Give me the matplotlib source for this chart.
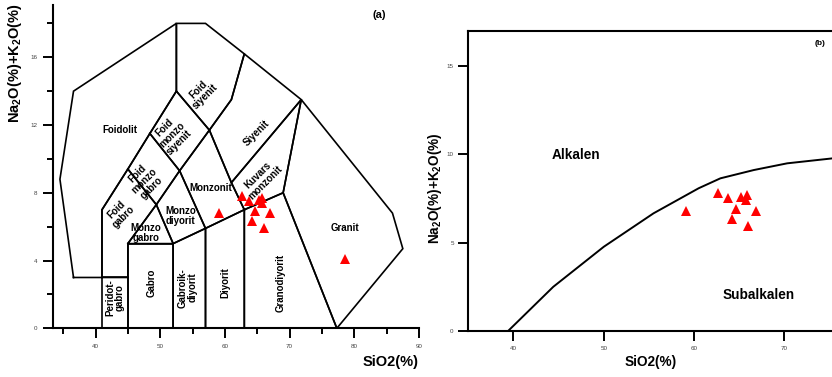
import matplotlib.pyplot as plt

plt.rcParams['font.family'] = ['Liberation Sans', 'DejaVu Sans']
plt.rcParams['mathtext.fontset'] = 'custom'
plt.rcParams['mathtext.bf'] = 'Liberation Sans:bold'
plt.rcParams['mathtext.rm'] = 'Liberation Sans'

# numune noktalari (SiO2, Na2O+K2O)
sio2 = [59.1, 62.6, 63.7, 65.2, 65.8, 65.7, 64.6, 66.9, 64.2, 66.0, 78.6]
alk = [6.8, 7.8, 7.5, 7.6, 7.7, 7.4, 6.9, 6.8, 6.35, 5.95, 4.1]

# TAS plutonik alanlar (kose noktalari)
peridotgabro = [(41, 0), (41, 3), (45, 3), (45, 0)]
gabro = [(45, 0), (45, 5), (52, 5), (52, 0)]
gabroik_diyorit = [(52, 0), (52, 5), (57, 5.9), (57, 0)]
diyorit = [(57, 0), (57, 5.9), (63, 7), (63, 0)]
granodiyorit = [(63, 0), (63, 7), (69, 8), (77.3, 0)]
granit = [(77.3, 0), (69, 8), (71.8, 13.5), (85.9, 6.8), (87.5, 4.7), (77.3, 0)]
kuvars_monzonit = [(63, 7), (69, 8), (71.8, 13.5), (61, 8.6)]
monzonit = [(53, 9.3), (57, 5.9), (63, 7), (61, 8.6), (57.6, 11.7)]
monzo_diyorit = [(49.4, 7.3), (52, 5), (57, 5.9), (53, 9.3)]
monzo_gabro = [(45, 5), (49.4, 7.3), (52, 5)]
foid_gabro = [(41, 3), (41, 7), (45, 9.4), (49.4, 7.3), (45, 5), (45, 3)]
foid_monzo_gabro = [(45, 9.4), (48.4, 11.5), (53, 9.3), (49.4, 7.3)]
foid_monzo_siyenit = [(48.4, 11.5), (52.5, 14), (57.6, 11.7), (53, 9.3)]
foid_siyenit = [(52.5, 14), (52.5, 18), (57, 18), (63, 16.2), (61, 13.5), (57.6, 11.7)]
siyenit = [(57.6, 11.7), (61, 13.5), (63, 16.2), (71.8, 13.5), (61, 8.6)]
foidolit = [(36.6, 3), (34.5, 8.8), (36.6, 14), (52.5, 18), (52.5, 14),
            (48.4, 11.5), (45, 9.4), (41, 7), (41, 3)]
fields = [peridotgabro, gabro, gabroik_diyorit, diyorit, granodiyorit, granit,
          kuvars_monzonit, monzonit, monzo_diyorit, monzo_gabro, foid_gabro,
          foid_monzo_gabro, foid_monzo_siyenit, foid_siyenit, siyenit, foidolit]

# alan etiketleri: metin, x, y, aci
field_labels = [
    ('Foidolit', 43.7, 11.7, 0),
    ('Foid\nsiyenit', 56.4, 13.9, 45),
    ('Foid\nmonzo\nsiyenit', 51.8, 11.4, 45),
    ('Foid\nmonzo\ngabro', 47.6, 8.7, 45),
    ('Foid\ngabro', 43.8, 6.8, 45),
    ('Monzo\ngabro', 47.8, 5.6, 0),
    ('Monzo\ndiyorit', 53.1, 6.6, 0),
    ('Monzonit', 57.8, 8.3, 0),
    ('Kuvars\nmonzonit', 65.7, 8.8, 45),
    ('Siyenit', 64.9, 11.5, 45),
    ('Granit', 78.6, 5.9, 0),
    ('Peridot-\ngabro', 43.0, 1.8, 90),
    ('Gabro', 48.7, 2.7, 90),
    ('Gabroik-\ndiyorit', 54.3, 2.4, 90),
    ('Diyorit', 60.0, 2.7, 90),
    ('Granodiyorit', 68.6, 2.7, 90),
]

# alkalen / subalkalen siniri
bx = [39.4, 44.4, 50.0, 55.5, 60.5, 62.9, 66.6, 70.3, 75.3]
by = [0.0, 2.5, 4.77, 6.66, 8.08, 8.64, 9.11, 9.49, 9.77]

ylab = r'$\mathbf{Na_2O(\%)}$' + r'$\mathbf{{+}K_2O(\%)}$'

fig = plt.figure(figsize=(8.32, 3.77), dpi=100)

# ---- (a) ----
ax1 = fig.add_axes([0.0641, 0.1292, 0.4395, 0.8568])
for poly in fields:
    xs = [p[0] for p in poly] + [poly[0][0]]
    ys = [p[1] for p in poly] + [poly[0][1]]
    ax1.plot(xs, ys, color='black', linewidth=1.2, solid_joinstyle='miter')
for txt, x, y, rot in field_labels:
    ax1.text(x, y, txt, rotation=rot, ha='center', va='center', fontsize=7,
             fontweight='bold', linespacing=1.0, multialignment='center')
ax1.plot(sio2, alk, '^', color='red', markersize=7.5, markeredgewidth=0)
ax1.set_xlim(33.48, 90)
ax1.set_ylim(0, 19.07)
ax1.set_xticks([40, 50, 60, 70, 80, 90])
ax1.set_xticks([35, 45, 55, 65, 75, 85], minor=True)
ax1.set_yticks([0, 4, 8, 12, 16])
ax1.set_yticks([2, 6, 10, 14, 18], minor=True)
ax1.spines['top'].set_visible(False)
ax1.spines['right'].set_visible(False)
for s in ['left', 'bottom']:
    ax1.spines[s].set_linewidth(1.5)
ax1.tick_params(which='major', direction='out', length=7.5, width=1.4,
                labelsize=4.5, labelcolor='#444444', pad=4)
ax1.tick_params(which='minor', direction='out', length=4.5, width=1.4)
ax1.text(83.9, 18.5, '(a)', fontsize=8, fontweight='bold', ha='center', va='center')

fig.text(419 / 832, 1 - 362 / 377, 'SiO2(%)', fontsize=10.5, fontweight='bold',
         ha='right', va='center')
fig.text(15 / 832, 1 - 63 / 377, ylab, fontsize=10.5, rotation=90,
         ha='center', va='center')

# ---- (b) ----
ax2 = fig.add_axes([0.5629, 0.1220, 0.4371, 0.7958])
ax2.plot(bx, by, color='black', linewidth=1.4)
ax2.plot(sio2, alk, '^', color='red', markersize=7.5, markeredgewidth=0)
ax2.set_xlim(35, 75.26)
ax2.set_ylim(0, 16.98)
ax2.set_xticks([40, 50, 60, 70])
ax2.set_yticks([0, 5, 10, 15])
ax2.spines['right'].set_visible(False)
for s in ['left', 'bottom', 'top']:
    ax2.spines[s].set_linewidth(1.5)
ax2.tick_params(direction='out', length=7.5, width=1.4, labelsize=4.5,
                labelcolor='#444444', pad=3)
ax2.text(46.9, 9.94, 'Alkalen', fontsize=9.8, fontweight='bold', ha='center', va='center')
ax2.text(67.1, 2.03, 'Subalkalen', fontsize=9.8, fontweight='bold', ha='center', va='center')
ax2.text(73.9, 16.3, '(b)', fontsize=6, fontweight='bold', ha='center', va='center')

fig.text(651 / 832, 1 - 362 / 377, 'SiO2(%)', fontsize=9.8, fontweight='bold',
         ha='center', va='center')
fig.text(435.5 / 832, 1 - 188 / 377, ylab, fontsize=9.8, rotation=90,
         ha='center', va='center')

fig.savefig('out.png', dpi=100)
